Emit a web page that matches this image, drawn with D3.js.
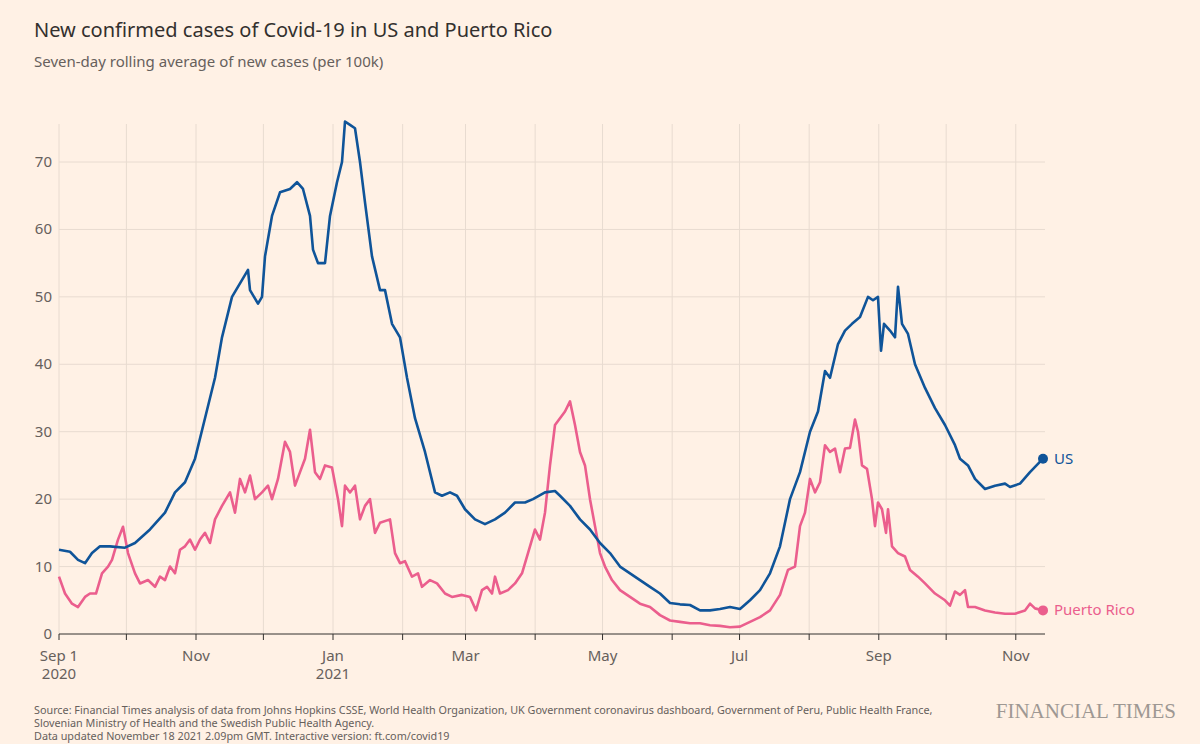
<!DOCTYPE html>
<html><head><meta charset="utf-8">
<script src="https://cdn.jsdelivr.net/npm/d3@7"></script>
<style>
body{margin:0;background:#fff1e5;font-family:"Noto Sans",sans-serif;}
</style></head><body>
<svg width="1200" height="744"></svg>
<script>
const usX = [59,70,78,85,92,100,110,125,135,150,165,175,185,195,205,215,222,232,240,248,250,258,262,265,272,280,290,297,303,310,313,318,325,330,337,342,345,350,355,360,365,372,380,385,392,400,407,415,425,435,442,450,457,465,475,485,495,505,515,525,533,545,555,560,570,580,590,600,610,620,630,640,650,660,670,680,690,700,710,720,730,740,750,760,770,780,790,800,810,818,825,830,838,845,852,860,868,873,878,881,884,890,895,898,902,908,915,925,935,945,955,960,968,975,985,995,1005,1010,1020,1030,1043];
const usVals = [12.5,12.2,11,10.5,12,13,13,12.8,13.5,15.5,18,21,22.5,26,32,38,44,50,52,54,51,49,50,56,62,65.5,66,67,66,62,57,55,55,62,67,70,76,75.5,75,70,64,56,51,51,46,44,38,32,27,21,20.5,21,20.5,18.5,17,16.3,17,18,19.5,19.5,20,21,21.2,20.5,19,17,15.5,13.5,12,10,9,8,7,6,4.6,4.4,4.3,3.5,3.5,3.7,4,3.7,5,6.5,9,13,20,24,30,33,39,38,43,45,46,47,50,49.5,50,42,46,45,44,51.5,46,44.5,40,36.5,33.5,31,28,26,25,23,21.5,22,22.3,21.8,22.3,24,26];
const prX = [59,65,72,78,85,90,96,102,108,112,118,123,128,135,140,148,155,160,165,170,175,180,185,190,195,200,205,210,215,222,230,235,240,245,250,255,262,268,272,278,285,290,295,300,305,310,315,320,325,332,338,342,345,350,355,360,365,370,375,380,390,395,400,405,412,418,422,430,437,445,452,462,470,476,482,487,492,495,500,508,515,522,528,535,540,545,550,555,560,565,570,575,580,585,590,595,600,605,612,620,630,640,650,660,670,680,690,700,710,720,730,740,750,760,770,780,788,795,800,805,810,815,820,825,830,835,840,845,850,855,858,862,867,872,875,878,882,886,888,892,898,905,910,918,925,935,945,950,955,960,965,968,975,985,995,1005,1015,1025,1030,1035,1043];
const prVals = [8.5,6,4.5,4,5.5,6,6,9,10,11,14,15.9,12,9,7.5,8,7,8.5,8,10,9,12.5,13,14,12.5,14,15,13.5,17,19,21,18,23,21,23.5,20,21,22,20,23,28.5,27,22,24,26,30.3,24,23,25,24.7,20,16,22,21,22,17,19,20,15,16.5,17,12,10.5,10.8,8.5,9,7,8,7.5,6,5.5,5.8,5.5,3.5,6.5,7,6,8.5,6,6.5,7.5,9,12,15.5,14,18,25,31,32,33,34.5,31,27,25,20,16,12,10,8,6.5,5.5,4.5,4,2.8,2,1.8,1.6,1.6,1.3,1.2,1,1.1,1.8,2.5,3.5,5.8,9.5,10,16,18,23,21,22.5,28,27,27.5,24,27.5,27.6,31.8,30,25,24.5,20,16,19.5,18.5,15,18.5,13,12,11.5,9.5,8.5,7.5,6,5,4.2,6.3,5.8,6.5,4,4,3.5,3.2,3,3,3.5,4.5,3.8,3.5];
const yTicks = [0,10,20,30,40,50,60,70];

const start = new Date(2020, 8, 1);
const pxPerDay = 2.246;
const day = n => d3.timeDay.offset(start, n);
const toDate = px => new Date(start.getTime() + (px - 59) / pxPerDay * 864e5);
const us = usX.map((p, i) => ({date: toDate(p), v: usVals[i]}));
const pr = prX.map((p, i) => ({date: toDate(p), v: prVals[i]}));

const svg = d3.select("svg");
const m = {left: 59, right: 1045, top: 124, bottom: 634};
const x = d3.scaleTime().domain([start, day(438)]).range([m.left, m.left + 438 * pxPerDay]);
const y = d3.scaleLinear().domain([0, 70]).range([m.bottom, 162]);
const grey = "#66605c";

svg.append("text").attr("x", 34).attr("y", 37).attr("font-size", 20).attr("fill", "#33302e")
	.text("New confirmed cases of Covid-19 in US and Puerto Rico");
svg.append("text").attr("x", 34).attr("y", 67).attr("font-size", 15).attr("fill", grey)
	.text("Seven-day rolling average of new cases (per 100k)");

const months = d3.timeMonth.range(start, day(440));
svg.append("g").selectAll("line").data(months).join("line")
	.attr("x1", d => x(d)).attr("x2", d => x(d)).attr("y1", m.top).attr("y2", m.bottom)
	.attr("stroke", "#e8dbd0");
svg.append("g").selectAll("line").data(yTicks).join("line")
	.attr("x1", m.left).attr("x2", m.right).attr("y1", d => y(d)).attr("y2", d => y(d))
	.attr("stroke", d => d === 0 ? "#33302e" : "#e8dbd0");
svg.append("g").selectAll("text").data(yTicks).join("text")
	.attr("x", 52).attr("y", d => y(d) + 5).attr("text-anchor", "end")
	.attr("font-size", 15).attr("fill", grey).text(d => d);
svg.append("g").selectAll("line").data(months).join("line")
	.attr("x1", d => x(d)).attr("x2", d => x(d)).attr("y1", m.bottom).attr("y2", m.bottom + 6)
	.attr("stroke", "#33302e");
const lab = svg.append("g").selectAll("text").data(months.filter((d, i) => i % 2 === 0)).join("text")
	.attr("x", d => x(d)).attr("y", 661).attr("text-anchor", "middle")
	.attr("font-size", 15).attr("fill", grey);
lab.append("tspan").text((d, i) => i === 0 ? "Sep 1" : d3.timeFormat("%b")(d));
lab.filter(d => d.getMonth() === 8 && d.getFullYear() === 2020 || d.getMonth() === 0)
	.append("tspan").attr("x", d => x(d)).attr("dy", 18).text(d => d.getFullYear());

const line = d3.line().x(d => x(d.date)).y(d => y(d.v));
[[pr, "#eb5e8d", "Puerto Rico"], [us, "#0f5499", "US"]].forEach(([data, c, name]) => {
	svg.append("path").datum(data).attr("d", line).attr("fill", "none")
		.attr("stroke", c).attr("stroke-width", 2.6).attr("stroke-linejoin", "round");
	const last = data[data.length - 1];
	svg.append("circle").attr("cx", x(last.date)).attr("cy", y(last.v)).attr("r", 5).attr("fill", c);
	svg.append("text").attr("x", x(last.date) + 11).attr("y", y(last.v) + 5)
		.attr("font-size", 15).attr("fill", c).text(name);
});

const src = ["Source: Financial Times analysis of data from Johns Hopkins CSSE, World Health Organization, UK Government coronavirus dashboard, Government of Peru, Public Health France,",
	"Slovenian Ministry of Health and the Swedish Public Health Agency.",
	"Data updated November 18 2021 2.09pm GMT. Interactive version: ft.com/covid19"];
svg.append("g").selectAll("text").data(src).join("text")
	.attr("x", 34).attr("y", (d, i) => 714 + i * 13).attr("font-size", 10.8).attr("fill", grey).text(d => d);
svg.append("text").attr("x", 1176).attr("y", 718).attr("text-anchor", "end")
	.attr("font-family", "Liberation Serif, serif").attr("font-size", 21).attr("fill", "#9e9893")
	.text("FINANCIAL TIMES");
</script></body></html>
